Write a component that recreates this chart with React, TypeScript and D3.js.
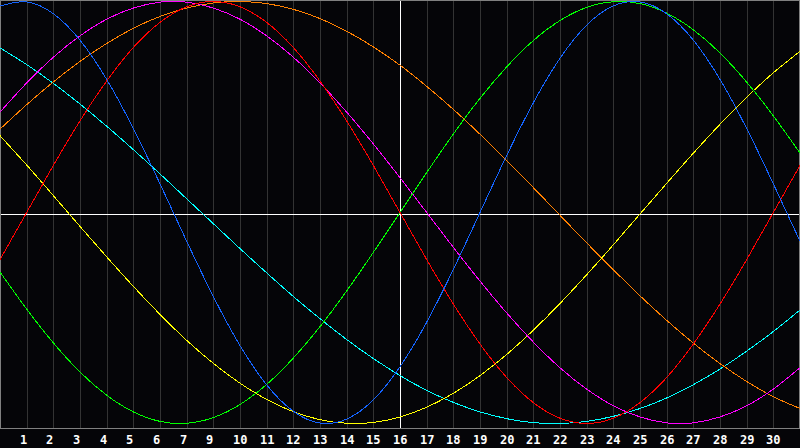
import * as d3 from "d3";

const W = 800;
const H = 448;
const PLOT_H = 428;

// day labels under the grid lines (the source skips "8")
const dayLabels = ["1", "2", "3", "4", "5", "6", "7", "9", "10", "11", "12", "13", "14", "15", "16",
  "17", "18", "19", "20", "21", "22", "23", "24", "25", "26", "27", "28", "29", "30"];

// values in percent, one per day step (31 samples, steps 0..30)
const physical = [97.9, 99.8, 94.2, 81.7, 63.1, 39.8, 13.6, -13.6, -39.8, -63.1, -81.7, -94.2, -99.8, -97.9,
  -88.8, -73.1, -52.0, -27.0, 0, 27.0, 52.0, 73.1, 88.8, 97.9, 99.8, 94.2, 81.7, 63.1, 39.8, 13.6, -13.6];
const emotional = [-22.3, 0, 22.3, 43.4, 62.3, 78.2, 90.1, 97.5, 100, 97.5, 90.1, 78.2, 62.3, 43.4, 22.3, 0,
  -22.3, -43.4, -62.3, -78.2, -90.1, -97.5, -100, -97.5, -90.1, -78.2, -62.3, -43.4, -22.3, 0, 22.3];
const intellectual = [-28.2, -45.8, -61.8, -75.6, -86.6, -94.5, -99.0, -99.9, -97.2, -91.0, -81.5, -69.0,
  -54.1, -37.2, -18.9, 0, 18.9, 37.2, 54.1, 69.0, 81.5, 91.0, 97.2, 99.9, 99.0, 94.5, 86.6, 75.6, 61.8, 45.8, 28.2];
const intuitive = [47.6, 61.4, 73.6, 83.7, 91.6, 96.9, 99.7, 99.7, 96.9, 91.6, 83.7, 73.6, 61.4, 47.6, 32.5,
  16.5, 0, -16.5, -32.5, -47.6, -61.4, -73.6, -83.7, -91.6, -96.9, -99.7, -99.7, -96.9, -91.6, -83.7, -73.6];
const aesthetic = [36.4, 22.5, 8.0, -6.6, -21.0, -35.0, -48.3, -60.6, -71.5, -80.9, -88.6, -94.4, -98.2,
  -99.9, -99.5, -96.9, -92.3, -85.7, -77.3, -67.3, -55.8, -43.1, -29.5, -15.3, -0.7, 13.8, 28.1, 41.8, 54.6, 66.2, 76.4];
const awareness = [39.5, 51.1, 61.9, 71.6, 80.1, 87.3, 92.9, 96.9, 99.3, 100, 99.0, 96.3, 91.9, 85.9, 78.5,
  69.8, 59.8, 48.9, 37.1, 24.6, 11.8, -1.3, -14.4, -27.1, -39.5, -51.1, -61.9, -71.6, -80.1, -87.3, -92.9];
const spiritual = [78.0, 70.1, 61.2, 51.4, 40.9, 29.8, 18.3, 6.5, -5.3, -17.1, -28.6, -39.8, -50.3, -60.2,
  -69.2, -77.3, -84.3, -90.0, -94.5, -97.7, -99.6, -100, -99.0, -96.6, -92.9, -87.9, -81.6, -74.2, -65.7, -56.4, -46.2];

const series = [
  { name: "spiritual", values: spiritual, color: "#00ffff" },
  { name: "awareness", values: awareness, color: "#ff8000" },
  { name: "aesthetic", values: aesthetic, color: "#ffff00" },
  { name: "intuitive", values: intuitive, color: "#ff00ff" },
  { name: "intellectual", values: intellectual, color: "#00ff00" },
  { name: "emotional", values: emotional, color: "#ff0000" },
  { name: "physical", values: physical, color: "#1464ff" },
];

const TODAY = 15;

export default function App() {
  const x = d3.scaleLinear().domain([0, 30]).range([0, W]);
  const y = d3.scaleLinear().domain([-100, 100]).range([423.5, 1.5]);
  const line = d3
    .line<number>()
    .x((_, i) => x(i))
    .y((d) => y(d))
    .curve(d3.curveNatural);

  const ticks = d3.range(1, 30);

  return (
    <svg
      width={W}
      height={H}
      viewBox={`0 0 ${W} ${H}`}
      style={{ position: "absolute", left: 0, top: 0, background: "#050508" }}
    >
      <rect x={0} y={0} width={W} height={H} fill="#050508" />
      <g shapeRendering="crispEdges">
        {ticks.map((t) => (
          <line key={t} x1={Math.round(x(t)) + 0.5} x2={Math.round(x(t)) + 0.5} y1={0} y2={PLOT_H} stroke="#333333" />
        ))}
        <line x1={0} x2={W} y1={214.5} y2={214.5} stroke="#ffffff" />
        <line x1={x(TODAY) + 0.5} x2={x(TODAY) + 0.5} y1={0} y2={PLOT_H} stroke="#ffffff" />
        <rect x={0.5} y={0.5} width={W - 1} height={PLOT_H - 0.5} fill="none" stroke="#808080" />
      </g>
      <g fill="none" strokeWidth={1} shapeRendering="crispEdges">
        {series.map((s) => (
          <path key={s.name} d={line(s.values) ?? ""} stroke={s.color} />
        ))}
      </g>
      <g fill="#ffffff" fontFamily="DejaVu Sans Mono" fontWeight="bold" fontSize={12}>
        {ticks.map((t, i) => (
          <text key={t} x={Math.round(x(t)) - 7} y={444}>
            {dayLabels[i]}
          </text>
        ))}
      </g>
    </svg>
  );
}
